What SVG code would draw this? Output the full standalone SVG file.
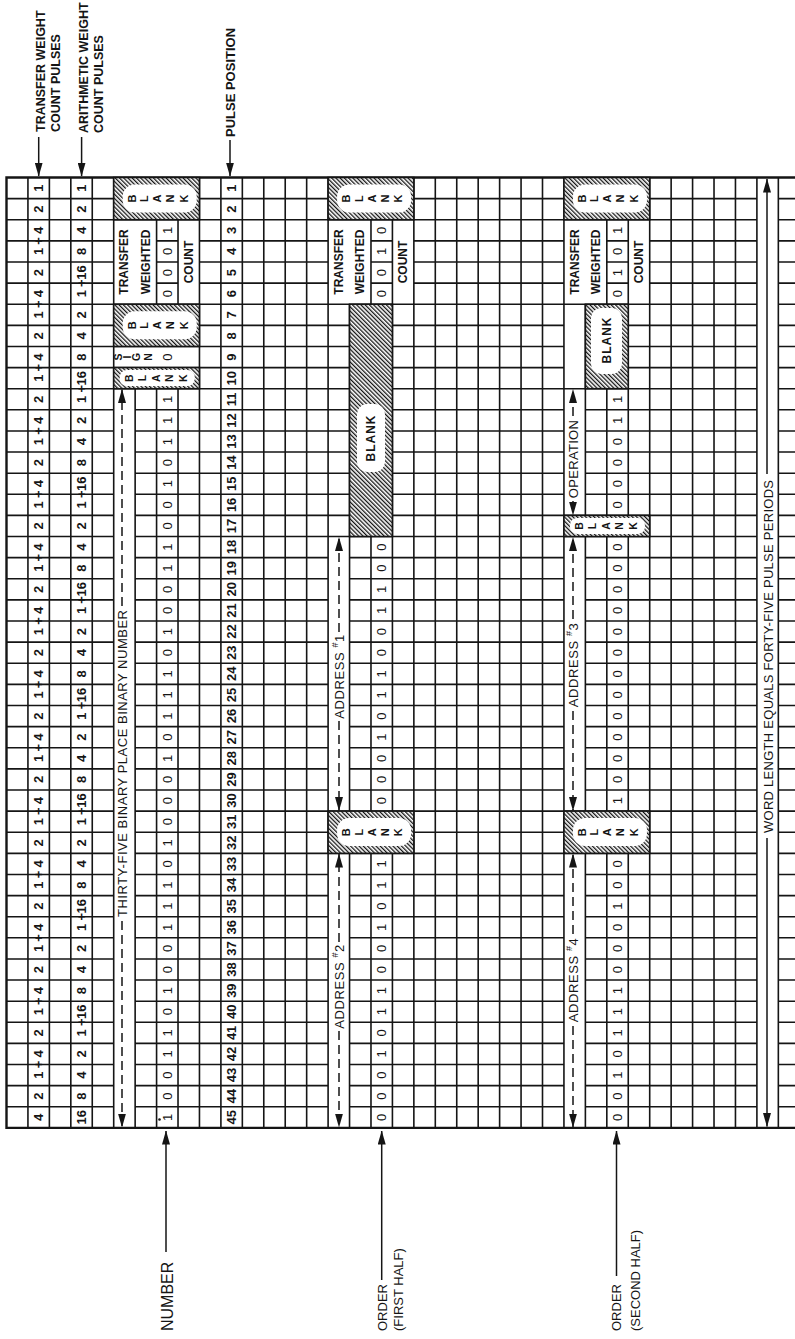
<svg xmlns="http://www.w3.org/2000/svg" width="795" height="1339" viewBox="0 0 795 1339">
<style>
.g{fill:none;stroke:#151515;stroke-width:1.6}
.bd{fill:none;stroke:#151515;stroke-width:2.4}
.h{fill:url(#hatch);stroke:#151515;stroke-width:1.6}
.lz{fill:#fff}
text{font-family:"Liberation Sans",Arial,sans-serif;fill:#151515}
.c{text-anchor:middle;dominant-baseline:central}
.w{font-size:13px;font-weight:bold}
.bit{font-size:13px}
.bl{font-size:11px;font-weight:bold}
.bs{font-size:10.5px;font-weight:bold}
.tw{font-size:12px;font-weight:bold}
.lab{font-size:12.5px;font-weight:bold}
.ar{font-size:13px}
.bot{font-size:13px}
.sup{font-size:9px}
.cn{fill:none;stroke:#151515;stroke-width:1.5}
.d{stroke-dasharray:9 5}
</style>
<defs>
<pattern id="hatch" width="3" height="3" patternUnits="userSpaceOnUse" patternTransform="rotate(-45)"><rect width="3" height="3" fill="#fff"/><rect width="1.3" height="3" fill="#151515"/></pattern>
<marker id="ah" viewBox="0 0 14 8" refX="13.5" refY="4" markerWidth="14" markerHeight="8" markerUnits="userSpaceOnUse" orient="auto-start-reverse"><path d="M0,0 L14,4 L0,8 z" fill="#151515"/></marker>
</defs>
<rect width="795" height="1339" fill="#fff"/>

<g id="grid">
<path class="g" d="
M6.5 198.62H113.7M199.46 198.62H328.1M413.86 198.62H563.94M649.7 198.62H756.9M778.34 198.62H795
M6.5 219.74H756.9M778.34 219.74H795
M6.5 240.86H113.7M156.58 240.86H178.02M199.46 240.86H328.1M370.98 240.86H392.42M413.86 240.86H563.94M606.82 240.86H628.26M649.7 240.86H756.9M778.34 240.86H795
M6.5 261.98H113.7M156.58 261.98H178.02M199.46 261.98H328.1M370.98 261.98H392.42M413.86 261.98H563.94M606.82 261.98H628.26M649.7 261.98H756.9M778.34 261.98H795
M6.5 283.1H113.7M156.58 283.1H178.02M199.46 283.1H328.1M370.98 283.1H392.42M413.86 283.1H563.94M606.82 283.1H628.26M649.7 283.1H756.9M778.34 283.1H795
M6.5 304.22H756.9M778.34 304.22H795
M6.5 325.34H113.7M199.46 325.34H349.54M392.42 325.34H563.94M628.26 325.34H756.9M778.34 325.34H795
M6.5 346.46H349.54M392.42 346.46H563.94M628.26 346.46H756.9M778.34 346.46H795
M6.5 367.58H349.54M392.42 367.58H563.94M628.26 367.58H756.9M778.34 367.58H795
M6.5 388.7H349.54M392.42 388.7H756.9M778.34 388.7H795
M6.5 409.82H113.7M135.14 409.82H349.54M392.42 409.82H563.94M585.38 409.82H756.9M778.34 409.82H795
M6.5 430.94H113.7M135.14 430.94H349.54M392.42 430.94H563.94M585.38 430.94H756.9M778.34 430.94H795
M6.5 452.06H113.7M135.14 452.06H349.54M392.42 452.06H563.94M585.38 452.06H756.9M778.34 452.06H795
M6.5 473.18H113.7M135.14 473.18H349.54M392.42 473.18H563.94M585.38 473.18H756.9M778.34 473.18H795
M6.5 494.3H113.7M135.14 494.3H349.54M392.42 494.3H563.94M585.38 494.3H756.9M778.34 494.3H795
M6.5 515.42H113.7M135.14 515.42H349.54M392.42 515.42H756.9M778.34 515.42H795
M6.5 536.54H113.7M135.14 536.54H756.9M778.34 536.54H795
M6.5 557.66H113.7M135.14 557.66H328.1M349.54 557.66H563.94M585.38 557.66H756.9M778.34 557.66H795
M6.5 578.78H113.7M135.14 578.78H328.1M349.54 578.78H563.94M585.38 578.78H756.9M778.34 578.78H795
M6.5 599.9H113.7M135.14 599.9H328.1M349.54 599.9H563.94M585.38 599.9H756.9M778.34 599.9H795
M6.5 621.02H113.7M135.14 621.02H328.1M349.54 621.02H563.94M585.38 621.02H756.9M778.34 621.02H795
M6.5 642.14H113.7M135.14 642.14H328.1M349.54 642.14H563.94M585.38 642.14H756.9M778.34 642.14H795
M6.5 663.26H113.7M135.14 663.26H328.1M349.54 663.26H563.94M585.38 663.26H756.9M778.34 663.26H795
M6.5 684.38H113.7M135.14 684.38H328.1M349.54 684.38H563.94M585.38 684.38H756.9M778.34 684.38H795
M6.5 705.5H113.7M135.14 705.5H328.1M349.54 705.5H563.94M585.38 705.5H756.9M778.34 705.5H795
M6.5 726.62H113.7M135.14 726.62H328.1M349.54 726.62H563.94M585.38 726.62H756.9M778.34 726.62H795
M6.5 747.74H113.7M135.14 747.74H328.1M349.54 747.74H563.94M585.38 747.74H756.9M778.34 747.74H795
M6.5 768.86H113.7M135.14 768.86H328.1M349.54 768.86H563.94M585.38 768.86H756.9M778.34 768.86H795
M6.5 789.98H113.7M135.14 789.98H328.1M349.54 789.98H563.94M585.38 789.98H756.9M778.34 789.98H795
M6.5 811.1H113.7M135.14 811.1H756.9M778.34 811.1H795
M6.5 832.22H113.7M135.14 832.22H328.1M413.86 832.22H563.94M649.7 832.22H756.9M778.34 832.22H795
M6.5 853.34H113.7M135.14 853.34H756.9M778.34 853.34H795
M6.5 874.46H113.7M135.14 874.46H328.1M349.54 874.46H563.94M585.38 874.46H756.9M778.34 874.46H795
M6.5 895.58H113.7M135.14 895.58H328.1M349.54 895.58H563.94M585.38 895.58H756.9M778.34 895.58H795
M6.5 916.7H113.7M135.14 916.7H328.1M349.54 916.7H563.94M585.38 916.7H756.9M778.34 916.7H795
M6.5 937.82H113.7M135.14 937.82H328.1M349.54 937.82H563.94M585.38 937.82H756.9M778.34 937.82H795
M6.5 958.94H113.7M135.14 958.94H328.1M349.54 958.94H563.94M585.38 958.94H756.9M778.34 958.94H795
M6.5 980.06H113.7M135.14 980.06H328.1M349.54 980.06H563.94M585.38 980.06H756.9M778.34 980.06H795
M6.5 1001.18H113.7M135.14 1001.18H328.1M349.54 1001.18H563.94M585.38 1001.18H756.9M778.34 1001.18H795
M6.5 1022.3H113.7M135.14 1022.3H328.1M349.54 1022.3H563.94M585.38 1022.3H756.9M778.34 1022.3H795
M6.5 1043.42H113.7M135.14 1043.42H328.1M349.54 1043.42H563.94M585.38 1043.42H756.9M778.34 1043.42H795
M6.5 1064.54H113.7M135.14 1064.54H328.1M349.54 1064.54H563.94M585.38 1064.54H756.9M778.34 1064.54H795
M6.5 1085.66H113.7M135.14 1085.66H328.1M349.54 1085.66H563.94M585.38 1085.66H756.9M778.34 1085.66H795
M6.5 1106.78H113.7M135.14 1106.78H328.1M349.54 1106.78H563.94M585.38 1106.78H756.9M778.34 1106.78H795
M27.94 177.5V1127.9M49.38 177.5V1127.9M70.82 177.5V1127.9M92.26 177.5V1127.9M113.7 177.5V1127.9
M199.46 177.5V1127.9M220.9 177.5V1127.9M242.34 177.5V1127.9M263.78 177.5V1127.9M285.22 177.5V1127.9M306.66 177.5V1127.9M328.1 177.5V1127.9
M413.86 177.5V1127.9M435.3 177.5V1127.9M456.74 177.5V1127.9M478.18 177.5V1127.9M499.62 177.5V1127.9M521.06 177.5V1127.9M542.5 177.5V1127.9M563.94 177.5V1127.9
M649.7 177.5V1127.9M671.14 177.5V1127.9M692.58 177.5V1127.9M714.02 177.5V1127.9M735.46 177.5V1127.9M756.9 177.5V1127.9M778.34 177.5V1127.9
M135.14 388.7V1127.9
M156.58 219.74V304.22M156.58 388.7V1127.9
M178.02 219.74V304.22M178.02 388.7V1127.9
M349.54 304.22V811.1M349.54 853.34V1127.9
M370.98 219.74V304.22M370.98 536.54V811.1M370.98 853.34V1127.9
M392.42 219.74V811.1M392.42 853.34V1127.9
M585.38 304.22V515.42M585.38 536.54V811.1M585.38 853.34V1127.9
M606.82 219.74V304.22M606.82 388.7V515.42M606.82 536.54V811.1M606.82 853.34V1127.9
M628.26 219.74V515.42M628.26 536.54V811.1M628.26 853.34V1127.9"/>
<path class="bd" d="M795 177.5H6.5V1127.9H795"/>
</g>

<g id="blank-blocks">
<rect class="h" x="113.7" y="177.5" width="85.76" height="42.24"/>
<rect class="h" x="113.7" y="304.22" width="85.76" height="42.24"/>
<rect class="h" x="113.7" y="367.58" width="85.76" height="21.12"/>
<rect class="h" x="328.1" y="177.5" width="85.76" height="42.24"/>
<rect class="h" x="349.54" y="304.22" width="42.88" height="232.32"/>
<rect class="h" x="328.1" y="811.1" width="85.76" height="42.24"/>
<rect class="h" x="563.94" y="177.5" width="85.76" height="42.24"/>
<rect class="h" x="585.38" y="304.22" width="42.88" height="84.48"/>
<rect class="h" x="563.94" y="515.42" width="85.76" height="21.12"/>
<rect class="h" x="563.94" y="811.1" width="85.76" height="42.24"/>
<rect class="lz" x="122.7" y="184.5" width="74" height="28" rx="12"/>
<rect class="lz" x="122.7" y="311.2" width="74" height="28" rx="12"/>
<rect class="lz" x="119.7" y="370.1" width="75" height="16" rx="7"/>
<rect class="lz" x="337.1" y="184.5" width="74" height="28" rx="12"/>
<rect class="lz" x="357" y="404" width="28" height="68" rx="10"/>
<rect class="lz" x="337.1" y="818.1" width="74" height="28" rx="12"/>
<rect class="lz" x="572.94" y="184.5" width="74" height="28" rx="12"/>
<rect class="lz" x="591" y="308" width="31" height="66" rx="10"/>
<rect class="lz" x="569.94" y="517.9" width="75" height="16" rx="7"/>
<rect class="lz" x="572.94" y="818.1" width="74" height="28" rx="12"/>
<circle cx="159.5" cy="1119.5" r="1.3" fill="#151515"/>
</g>

<g id="connectors">
<path class="cn" marker-end="url(#ah)" d="M38.7 137V176"/>
<path class="cn" marker-end="url(#ah)" d="M81.6 137V176"/>
<path class="cn" marker-end="url(#ah)" d="M230 140V176"/>
<path class="cn" marker-end="url(#ah)" d="M166 1252V1131"/>
<path class="cn" marker-end="url(#ah)" d="M381.7 1280V1131"/>
<path class="cn" marker-end="url(#ah)" d="M616.5 1276V1131"/>
<path class="cn" marker-end="url(#ah)" d="M767 474V179"/>
<path class="cn" marker-end="url(#ah)" d="M767 838V1126.5"/>
<path class="cn d" marker-end="url(#ah)" d="M122 606V389.5"/>
<path class="cn d" marker-end="url(#ah)" d="M122 921V1127"/>
<path class="cn d" marker-end="url(#ah)" d="M339 632V537.5"/>
<path class="cn d" marker-end="url(#ah)" d="M339 721V810.5"/>
<path class="cn d" marker-end="url(#ah)" d="M339 942V854"/>
<path class="cn d" marker-end="url(#ah)" d="M339 1031V1127"/>
<path class="cn d" marker-end="url(#ah)" d="M573 416V389.5"/>
<path class="cn d" marker-end="url(#ah)" d="M573 501V515"/>
<path class="cn d" marker-end="url(#ah)" d="M573 619V537.5"/>
<path class="cn d" marker-end="url(#ah)" d="M573 711V810.5"/>
<path class="cn d" marker-end="url(#ah)" d="M573 934V854"/>
<path class="cn d" marker-end="url(#ah)" d="M573 1026V1127"/>
</g>

<g id="texts" transform="matrix(0 -1 1 0 0 1339)">
<g id="label-transfer-weight">
<text class="lab" x="1207" y="45">TRANSFER WEIGHT</text>
<text class="lab" x="1207" y="60">COUNT PULSES</text>
</g>
<g id="label-arithmetic-weight">
<text class="lab" x="1206" y="88">ARITHMETIC WEIGHT</text>
<text class="lab" x="1206" y="103">COUNT PULSES</text>
</g>
<g id="label-pulse-position">
<text class="lab" x="1202" y="234.5" style="font-size:13px">PULSE POSITION</text>
</g>
<g id="label-number"><text class="bot" x="8" y="172.5" style="font-size:16px">NUMBER</text></g>
<g id="label-order-first">
<text class="bot" x="8" y="387">ORDER</text>
<text class="bot" x="8" y="403">(FIRST HALF)</text>
</g>
<g id="label-order-second">
<text class="bot" x="8" y="621">ORDER</text>
<text class="bot" x="8" y="640">(SECOND HALF)</text>
</g>
<g id="label-word-length"><text class="ar c" x="682.5" y="768" textLength="353" lengthAdjust="spacing">WORD LENGTH EQUALS FORTY-FIVE PULSE PERIODS</text></g>

<g id="transfer-weights" class="w c" transform="translate(0 38.66)">
<text x="1150.94">1</text><text x="1129.82">2</text>
<text x="1087.58 1098.14 1108.70">1+4</text>
<text x="1024.22 1034.78 1045.34">1+4</text>
<text x="960.86 971.42 981.98">1+4</text>
<text x="897.50 908.06 918.62">1+4</text>
<text x="834.14 844.70 855.26">1+4</text>
<text x="770.78 781.34 791.90">1+4</text>
<text x="707.42 717.98 728.54">1+4</text>
<text x="644.06 654.62 665.18">1+4</text>
<text x="580.70 591.26 601.82">1+4</text>
<text x="517.34 527.90 538.46">1+4</text>
<text x="453.98 464.54 475.10">1+4</text>
<text x="390.62 401.18 411.74">1+4</text>
<text x="327.26 337.82 348.38">1+4</text>
<text x="263.90 274.46 285.02">1+4</text>
<text x="1066.46">2</text><text x="1003.10">2</text><text x="939.74">2</text><text x="876.38">2</text><text x="813.02">2</text><text x="749.66">2</text><text x="686.30">2</text><text x="622.94">2</text><text x="559.58">2</text><text x="496.22">2</text><text x="432.86">2</text><text x="369.50">2</text><text x="306.14">2</text><text x="242.78">2</text>
<text x="221.66">4</text>
</g>

<g id="arithmetic-weights" class="w c" transform="translate(0 81.54)">
<text x="1150.94">1</text><text x="1129.82">2</text><text x="1108.70">4</text><text x="1087.58">8</text>
<text x="1045.34 1055.90 1066.46">1+16</text>
<text x="939.74 950.30 960.86">1+16</text>
<text x="834.14 844.70 855.26">1+16</text>
<text x="728.54 739.10 749.66">1+16</text>
<text x="622.94 633.50 644.06">1+16</text>
<text x="517.34 527.90 538.46">1+16</text>
<text x="411.74 422.30 432.86">1+16</text>
<text x="306.14 316.70 327.26">1+16</text>
<text x="1024.22">2</text><text x="918.62">2</text><text x="813.02">2</text><text x="707.42">2</text><text x="601.82">2</text><text x="496.22">2</text><text x="390.62">2</text><text x="285.02">2</text>
<text x="1003.10">4</text><text x="897.50">4</text><text x="791.90">4</text><text x="686.30">4</text><text x="580.70">4</text><text x="475.10">4</text><text x="369.50">4</text><text x="263.90">4</text>
<text x="981.98">8</text><text x="876.38">8</text><text x="770.78">8</text><text x="665.18">8</text><text x="559.58">8</text><text x="453.98">8</text><text x="348.38">8</text><text x="242.78">8</text>
<text x="221.66">16</text>
</g>

<g id="pulse-positions" class="w c" transform="translate(0 231.62)">
<text x="1150.94">1</text><text x="1129.82">2</text><text x="1108.70">3</text><text x="1087.58">4</text><text x="1066.46">5</text><text x="1045.34">6</text><text x="1024.22">7</text><text x="1003.10">8</text><text x="981.98">9</text><text x="960.86">10</text>
<text x="939.74">11</text><text x="918.62">12</text><text x="897.50">13</text><text x="876.38">14</text><text x="855.26">15</text><text x="834.14">16</text><text x="813.02">17</text><text x="791.90">18</text><text x="770.78">19</text><text x="749.66">20</text>
<text x="728.54">21</text><text x="707.42">22</text><text x="686.30">23</text><text x="665.18">24</text><text x="644.06">25</text><text x="622.94">26</text><text x="601.82">27</text><text x="580.70">28</text><text x="559.58">29</text><text x="538.46">30</text>
<text x="517.34">31</text><text x="496.22">32</text><text x="475.10">33</text><text x="453.98">34</text><text x="432.86">35</text><text x="411.74">36</text><text x="390.62">37</text><text x="369.50">38</text><text x="348.38">39</text><text x="327.26">40</text>
<text x="306.14">41</text><text x="285.02">42</text><text x="263.90">43</text><text x="242.78">44</text><text x="221.66">45</text>
</g>

<g id="number-word">
<text class="bl c" x="1140.38 1140.38 1140.38 1140.38 1140.38" y="131.7 144.2 157.2 170.2 183.7">BLANK</text>
<text class="tw c" x="1077.02" y="124.42">TRANSFER</text>
<text class="tw c" x="1077.02" y="145.86">WEIGHTED</text>
<text class="tw c" x="1077.02" y="188.74">COUNT</text>
<text class="bl c" x="1013.66 1013.66 1013.66 1013.66 1013.66" y="131.7 144.2 157.2 170.2 183.7">BLANK</text>
<text class="bs c" x="981.98 981.98 981.98 981.98" y="118 126.5 136 147.5">SIGN</text>
<text class="bs c" x="960.86 960.86 960.86 960.86 960.86" y="128.7 142.2 155.7 169.2 183.2">BLANK</text>
<text class="ar c" x="575.5" y="122" textLength="307" lengthAdjust="spacing">THIRTY-FIVE BINARY PLACE BINARY NUMBER</text>
<g class="bit c" transform="translate(0 167.3)">
<text x="1108.70">1</text><text x="1087.58">0</text><text x="1066.46">0</text><text x="1045.34">0</text>
<text x="981.98">0</text>
<text x="939.74">1</text><text x="918.62">1</text><text x="897.50">1</text><text x="876.38">0</text><text x="855.26">1</text><text x="834.14">0</text><text x="813.02">0</text><text x="791.90">1</text><text x="770.78">1</text><text x="749.66">0</text>
<text x="728.54">0</text><text x="707.42">1</text><text x="686.30">0</text><text x="665.18">1</text><text x="644.06">1</text><text x="622.94">1</text><text x="601.82">0</text><text x="580.70">1</text><text x="559.58">0</text><text x="538.46">0</text>
<text x="517.34">0</text><text x="496.22">1</text><text x="475.10">0</text><text x="453.98">1</text><text x="432.86">1</text><text x="411.74">1</text><text x="390.62">0</text><text x="369.50">0</text><text x="348.38">1</text><text x="327.26">0</text>
<text x="306.14">1</text><text x="285.02">1</text><text x="263.90">0</text><text x="242.78">0</text><text x="221.66">1</text>
</g>
</g>

<g id="order-first-half">
<text class="bl c" x="1140.38 1140.38 1140.38 1140.38 1140.38" y="346.1 358.6 371.6 384.6 398.1">BLANK</text>
<text class="tw c" x="1077.02" y="338.82">TRANSFER</text>
<text class="tw c" x="1077.02" y="360.26">WEIGHTED</text>
<text class="tw c" x="1077.02" y="403.14">COUNT</text>
<text class="tw c" x="901" y="371" style="letter-spacing:1px">BLANK</text>
<text class="bl c" x="506.78 506.78 506.78 506.78 506.78" y="346.1 358.6 371.6 384.6 398.1">BLANK</text>
<text class="ar c" x="662.5" y="339" style="letter-spacing:0.6px">ADDRESS <tspan class="sup" dy="-4">#</tspan><tspan dy="4">1</tspan></text>
<text class="ar c" x="352.5" y="339" style="letter-spacing:0.6px">ADDRESS <tspan class="sup" dy="-4">#</tspan><tspan dy="4">2</tspan></text>
<g class="bit c" transform="translate(0 381.7)">
<text x="1108.70">0</text><text x="1087.58">1</text><text x="1066.46">0</text><text x="1045.34">0</text>
<text x="791.90">0</text><text x="770.78">0</text><text x="749.66">1</text><text x="728.54">1</text><text x="707.42">0</text><text x="686.30">0</text><text x="665.18">1</text><text x="644.06">1</text><text x="622.94">0</text><text x="601.82">1</text><text x="580.70">0</text><text x="559.58">0</text><text x="538.46">0</text>
<text x="475.10">1</text><text x="453.98">1</text><text x="432.86">0</text><text x="411.74">1</text><text x="390.62">0</text><text x="369.50">0</text><text x="348.38">1</text><text x="327.26">1</text><text x="306.14">0</text><text x="285.02">1</text><text x="263.90">0</text><text x="242.78">0</text><text x="221.66">0</text>
</g>
</g>

<g id="order-second-half">
<text class="bl c" x="1140.38 1140.38 1140.38 1140.38 1140.38" y="581.94 594.44 607.44 620.44 633.94">BLANK</text>
<text class="tw c" x="1077.02" y="574.66">TRANSFER</text>
<text class="tw c" x="1077.02" y="596.1">WEIGHTED</text>
<text class="tw c" x="1077.02" y="638.98">COUNT</text>
<text class="tw c" x="999" y="606.8" style="letter-spacing:1px">BLANK</text>
<text class="ar c" x="880" y="573" style="letter-spacing:0.3px">OPERATION</text>
<text class="bs c" x="813.02 813.02 813.02 813.02 813.02" y="578.94 592.44 605.94 619.44 633.44">BLANK</text>
<text class="bl c" x="506.78 506.78 506.78 506.78 506.78" y="581.94 594.44 607.44 620.44 633.94">BLANK</text>
<text class="ar c" x="674" y="573" style="letter-spacing:0.6px">ADDRESS <tspan class="sup" dy="-4">#</tspan><tspan dy="4">3</tspan></text>
<text class="ar c" x="359" y="573" style="letter-spacing:0.6px">ADDRESS <tspan class="sup" dy="-4">#</tspan><tspan dy="4">4</tspan></text>
<g class="bit c" transform="translate(0 617.54)">
<text x="1108.70">1</text><text x="1087.58">0</text><text x="1066.46">1</text><text x="1045.34">0</text>
<text x="939.74">1</text><text x="918.62">1</text><text x="897.50">0</text><text x="876.38">0</text><text x="855.26">0</text><text x="834.14">0</text>
<text x="791.90">0</text><text x="770.78">0</text><text x="749.66">0</text><text x="728.54">0</text><text x="707.42">0</text><text x="686.30">0</text><text x="665.18">0</text><text x="644.06">0</text><text x="622.94">0</text><text x="601.82">0</text><text x="580.70">0</text><text x="559.58">0</text><text x="538.46">1</text>
<text x="475.10">0</text><text x="453.98">0</text><text x="432.86">1</text><text x="411.74">0</text><text x="390.62">0</text><text x="369.50">0</text><text x="348.38">1</text><text x="327.26">1</text><text x="306.14">1</text><text x="285.02">0</text><text x="263.90">1</text><text x="242.78">0</text><text x="221.66">0</text>
</g>
</g>
</g>
</svg>
